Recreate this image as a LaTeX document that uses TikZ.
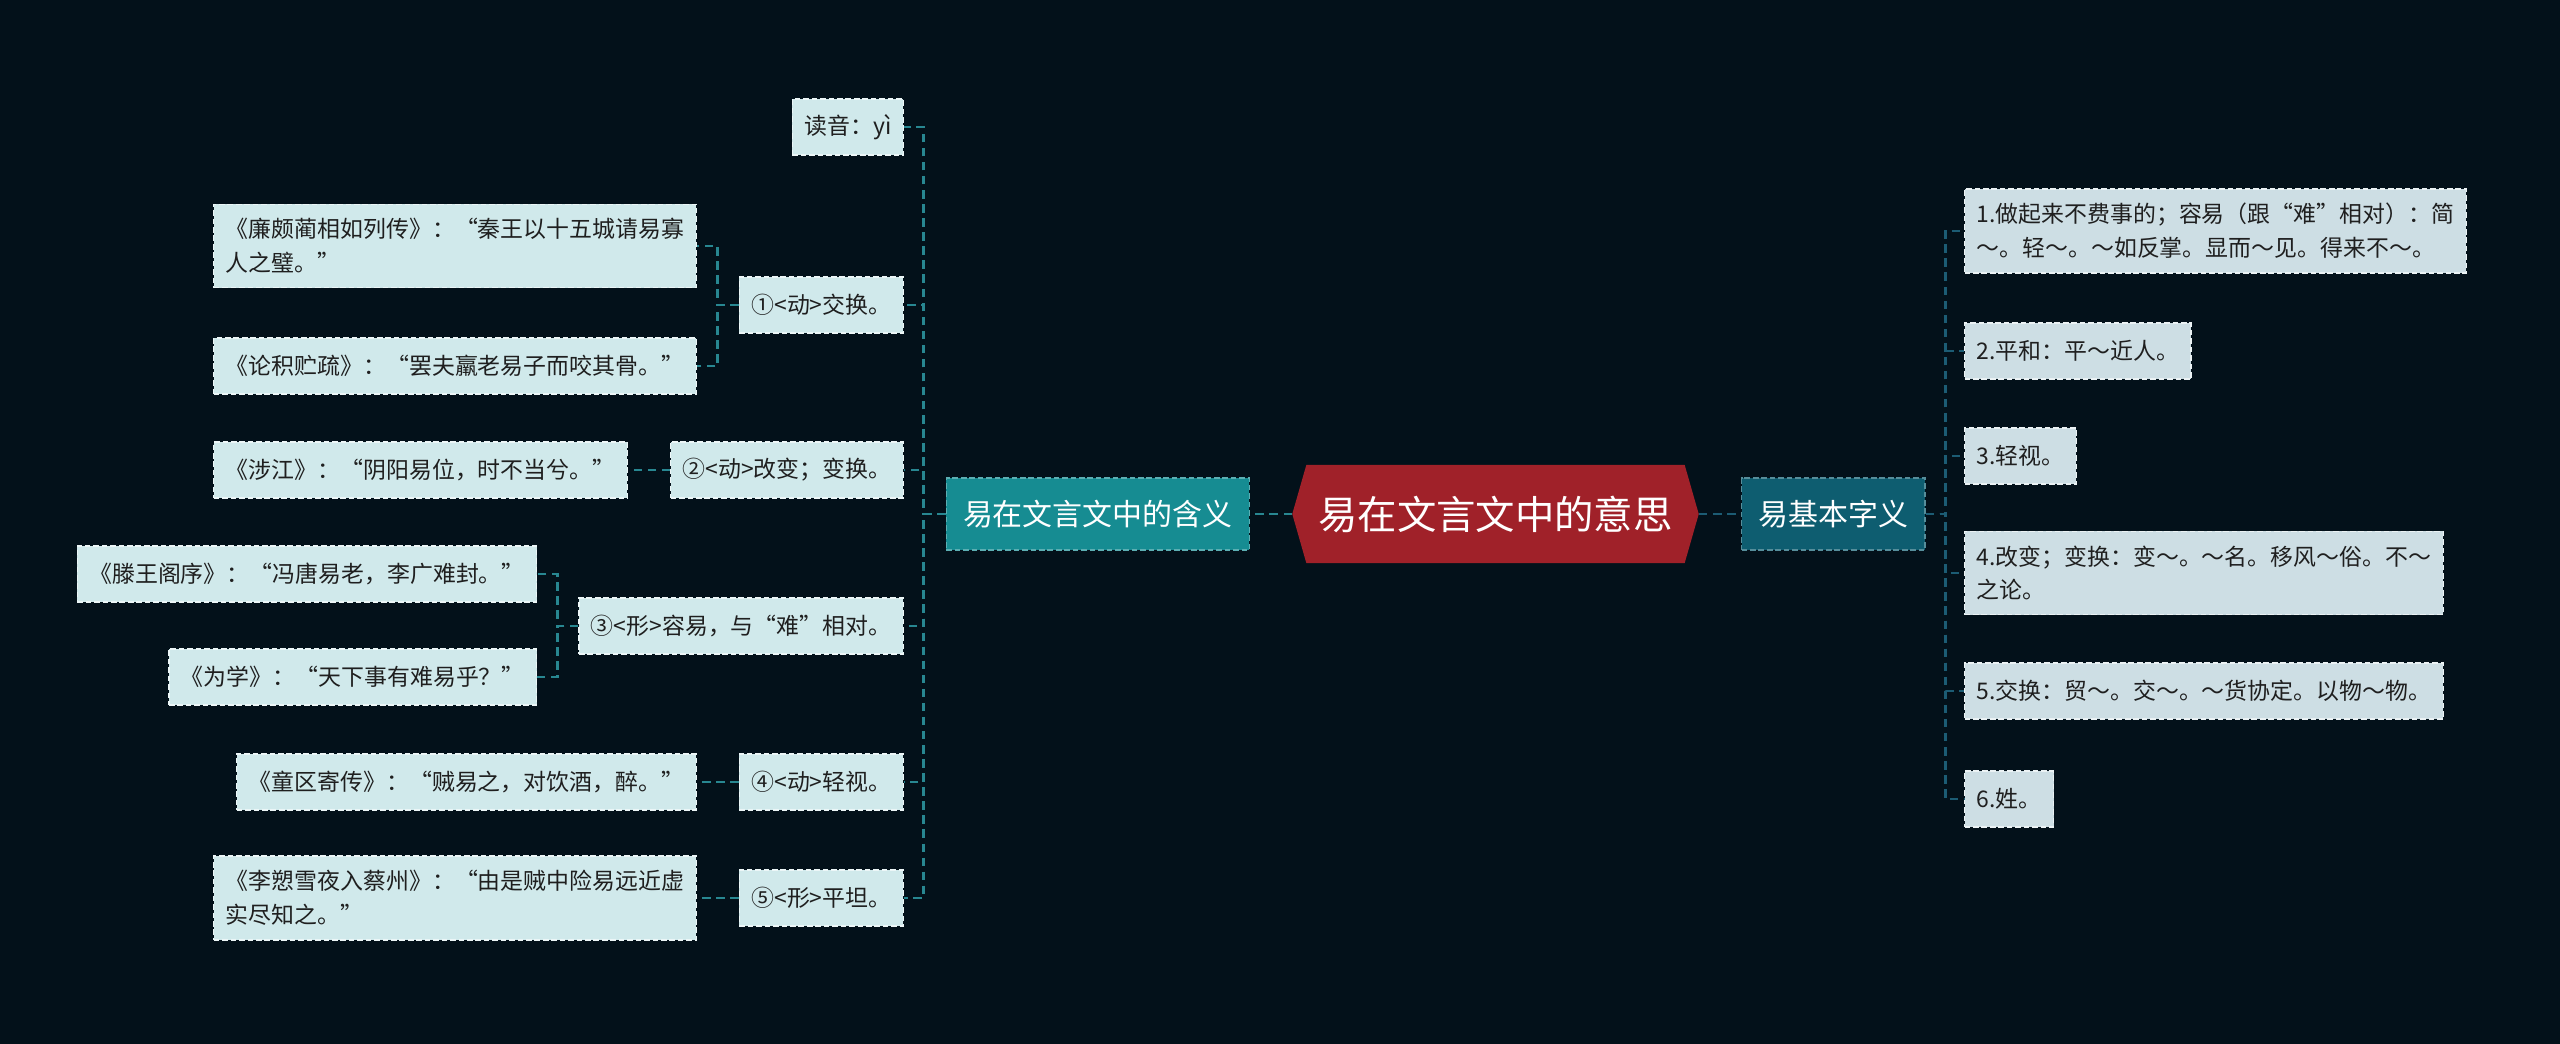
\documentclass[tikz,border=0pt]{standalone}
\usepackage{fontspec}
\setmainfont{Noto Sans CJK SC}
\usepackage{xcolor}
\definecolor{bgnavy}{RGB}{3,17,26}
\definecolor{rootred}{RGB}{160,33,41}
\definecolor{tealmain}{RGB}{22,140,146}
\definecolor{tealdeep}{RGB}{14,93,112}
\definecolor{leafpale}{RGB}{208,233,235}
\definecolor{leafgrey}{RGB}{205,222,228}
\definecolor{linkteal}{RGB}{40,135,145}
\definecolor{linkblue}{RGB}{28,92,116}
\usetikzlibrary{positioning,calc,backgrounds,shapes.symbols}

\begin{document}
\begin{tikzpicture}[
  x=0.025cm, y=-0.025cm,
  root/.style={signal, signal to=west and east, signal pointer angle=148,
               fill=rootred, text=white, inner xsep=0.3cm,
               minimum width=10.1cm, minimum height=2.45cm,
               font=\fontsize{28}{34}\selectfont},
  topic/.style={fill=#1, draw=#1!70!white, dash pattern=on 4pt off 2pt,
                line width=0.8pt, text=white, inner xsep=0.42cm,
                minimum height=1.8cm, font=\fontsize{21.3}{26}\selectfont},
  leaf/.style={fill=#1, draw=#1!40!white, dash pattern=on 4pt off 2pt,
               line width=0.8pt, text=black!88, align=left,
               inner xsep=0.3cm, inner ysep=0.36cm, minimum height=1.4cm,
               font=\fontsize{16.3}{24}\selectfont},
  leaf/.default=leafpale,
  lk/.style={draw=#1, line width=2.1pt, dash pattern=on 6pt off 4pt},
  lk/.default=linkteal,
]
\useasboundingbox (0,0) rectangle (2560,1044);

% --- centre ---
\node[root] (root) at (1495.5,514) {易在文言文中的意思};

% --- two main branches ---
\node[topic=tealmain, left=1.05cm of root] (mean) {易在文言文中的含义};
\node[topic=tealdeep, right=1.05cm of root] (basic) {易基本字义};

% --- meanings in classical texts ---
\node[leaf, anchor=east] (c1) at (904,127) {读音：yì};
\node[leaf, anchor=east] (c2) at (904,305) {①<动>交换。};
\node[leaf, anchor=east] (c3) at (904,470) {②<动>改变；变换。};
\node[leaf, anchor=east] (c4) at (904,626) {③<形>容易，与“难”相对。};
\node[leaf, anchor=east] (c5) at (904,782) {④<动>轻视。};
\node[leaf, anchor=east] (c6) at (904,898) {⑤<形>平坦。};

% --- quoted examples ---
\node[leaf, anchor=east] (g1) at ($(c2.west)+(-42,-59)$)
  {《廉颇蔺相如列传》：“秦王以十五城请易寡\\人之璧。”};
\node[leaf, anchor=east] (g2) at ($(c2.west)+(-42,61)$)
  {《论积贮疏》：“罢夫羸老易子而咬其骨。”};
\node[leaf, left=1.05cm of c3] (g3) {《涉江》：“阴阳易位，时不当兮。”};
\node[leaf, anchor=east] (g4) at ($(c4.west)+(-41,-52)$)
  {《滕王阁序》：“冯唐易老，李广难封。”};
\node[leaf, anchor=east] (g5) at ($(c4.west)+(-41,51)$)
  {《为学》：“天下事有难易乎？”};
\node[leaf, left=1.05cm of c5] (g6) {《童区寄传》：“贼易之，对饮酒，醉。”};
\node[leaf, left=1.05cm of c6] (g7)
  {《李愬雪夜入蔡州》：“由是贼中险易远近虚\\实尽知之。”};

% --- basic senses ---
\node[leaf=leafgrey, anchor=west] (r1) at (1964,231)
  {1.做起来不费事的；容易（跟“难”相对）：简\\～。轻～。～如反掌。显而～见。得来不～。};
\node[leaf=leafgrey, anchor=west] (r2) at (1964,351) {2.平和：平～近人。};
\node[leaf=leafgrey, anchor=west] (r3) at (1964,456) {3.轻视。};
\node[leaf=leafgrey, anchor=west] (r4) at (1964,573)
  {4.改变；变换：变～。～名。移风～俗。不～\\之论。};
\node[leaf=leafgrey, anchor=west] (r5) at (1964,691) {5.交换：贸～。交～。～货协定。以物～物。};
\node[leaf=leafgrey, anchor=west] (r6) at (1964,799) {6.姓。};

% --- links ---
\coordinate (lspine) at ($(mean.west)+(-22,0)$);
\coordinate (rspine) at ($(basic.east)+(20,0)$);
\draw[lk] (root.west) -- (mean.east);
\draw[lk=linkblue] (root.east) -- (basic.west);
\foreach \c in {c1,c2,c3,c4,c5,c6}
  \draw[lk] (mean.west) -- (lspine) |- (\c.east);
\foreach \r in {r1,r2,r3,r4,r5,r6}
  \draw[lk=linkblue] (basic.east) -- (rspine) |- (\r.west);
\draw[lk] (c2.west) -- ++(-21,0) |- (g1.east);
\draw[lk] (c2.west) -- ++(-21,0) |- (g2.east);
\draw[lk] (c3.west) -- (g3.east);
\draw[lk] (c4.west) -- ++(-21,0) |- (g4.east);
\draw[lk] (c4.west) -- ++(-21,0) |- (g5.east);
\draw[lk] (c5.west) -- (g6.east);
\draw[lk] (c6.west) -- (g7.east);

\begin{scope}[on background layer]
  \fill[bgnavy] (0,0) rectangle (2560,1044);
\end{scope}
\end{tikzpicture}
\end{document}
